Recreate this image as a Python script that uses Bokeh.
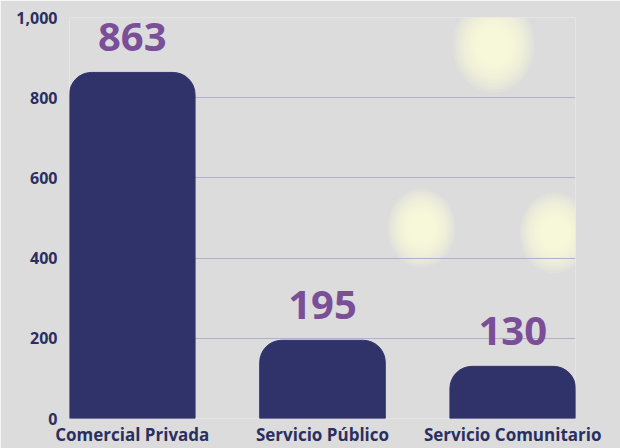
from bokeh.plotting import figure
from bokeh.models import ColumnDataSource, FactorRange, Range1d, NumeralTickFormatter, FixedTicker
from bokeh.core.properties import value
from bokeh.embed import file_html
from bokeh.resources import INLINE

categories = ["Comercial Privada", "Servicio Público", "Servicio Comunitario"]
counts = [863, 195, 130]
labels = [str(c) for c in counts]
y_ticks = [0, 200, 400, 600, 800, 1000]

BG = "#dcdcdd"
BAR = "#2f3369"
TXT = "#2b2f5f"
PURPLE = "#7a4f98"
GRID = "#b1b1c6"
FONT = "Open Sans"

src = ColumnDataSource(dict(cat=categories, val=counts, label=labels))

p = figure(
    x_range=FactorRange(*categories, range_padding=-0.17, range_padding_units="absolute"),
    y_range=Range1d(0, 1000),
    width=620, height=448,
    output_backend="svg", toolbar_location=None,
    min_border_left=69, min_border_right=45, min_border_top=17, min_border_bottom=29,
)
p.background_fill_color = BG
p.border_fill_color = BG
p.outline_line_color = None

# soft decorative glows in the background (x in category units, y in data units)
glows = [(2.40, 930, 0.41, 224), (2.02, 475, 0.34, 187), (2.72, 463, 0.35, 192)]
for gx, gy, gw, gh in glows:
    for k in range(10):
        s = 1.05 - k * 0.07
        p.ellipse(x=gx, y=gy, width=gw * s, height=gh * s,
                  fill_color="#fcfdd8", fill_alpha=0.16, line_color=None, level="underlay")

p.vbar(x="cat", top="val", width=0.66, source=src, color=BAR,
       border_radius=(22, 22, 0, 0))

p.text(x="cat", y="val", text="label", source=src,
       text_align="center", text_baseline="alphabetic", y_offset=-35,
       text_font=value(FONT), text_font_style="bold", text_font_size="40px",
       text_color=PURPLE)

p.xgrid.grid_line_color = None
p.ygrid.grid_line_color = GRID
p.ygrid.grid_line_width = 1.2
p.ygrid.level = "underlay"
p.yaxis.ticker = FixedTicker(ticks=y_ticks)
p.yaxis.formatter = NumeralTickFormatter(format="0,0")

for ax in (p.xaxis[0], p.yaxis[0]):
    ax.axis_line_color = None
    ax.major_tick_line_color = None
    ax.minor_tick_line_color = None
    ax.major_label_text_font = FONT
    ax.major_label_text_font_style = "bold"
    ax.major_label_text_color = TXT

p.yaxis.major_label_text_font_size = "16px"
p.yaxis.major_label_standoff = 6
p.xaxis.major_label_text_font_size = "17px"
p.xaxis.major_label_standoff = -2

open("out.html", "w").write(file_html(p, INLINE))
